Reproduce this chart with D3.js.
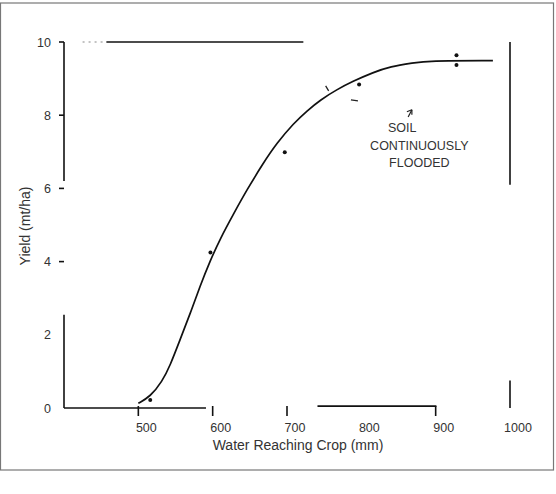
<!DOCTYPE html>
<html>
<head>
<meta charset="utf-8">
<script src="https://cdn.jsdelivr.net/npm/d3@7"></script>
<style>
  body { margin: 0; background: #fff; }
  text { font-family: "Liberation Sans", Arial, sans-serif; fill: #333; }
</style>
</head>
<body>
<script>
// fitted response curve
const curveWater = [500, 516, 532, 543, 556, 570, 583, 597, 610, 628, 646, 668, 686, 709, 727, 745, 767, 789, 816, 839, 870, 889, 977];
const curveYield = [0.13, 0.31, 0.72, 1.17, 1.86, 2.59, 3.33, 4.04, 4.62, 5.3, 5.96, 6.69, 7.23, 7.78, 8.12, 8.42, 8.7, 8.93, 9.17, 9.33, 9.43, 9.49, 9.49];

// observed points
const obsWater = [516, 597, 697, 797, 928, 928];
const obsYield = [0.22, 4.25, 6.99, 8.84, 9.64, 9.37];

const xTicks = [500, 600, 700, 800, 900, 1000];
const yTicks = [0, 2, 4, 6, 8, 10];
const noteLines = ['SOIL', 'CONTINUOUSLY', 'FLOODED'];

function plot()
{
    const W = 556, H = 494;
    const svg = d3.select('body').append('svg')
        .attr('width', W).attr('height', H);

    // outer scan border
    svg.append('rect')
        .attr('x', 0.5).attr('y', 3).attr('width', 553).attr('height', 467)
        .attr('fill', 'none').attr('stroke', '#777').attr('stroke-width', 1.2);

    const x = d3.scaleLinear().domain([400, 1000]).range([64, 510]);
    const y = d3.scaleLinear().domain([0, 10]).range([408, 42]);

    const frame = svg.append('g')
        .attr('stroke', '#111').attr('stroke-width', 1.6).attr('fill', 'none');
    // frame pieces as they survived the scan, in data units
    const segs = [
        [[400, 10], [400, 6.2]],
        [[400, 2.55], [400, 0]],
        [[400, 0], [591, 0]],
        [[741, 0.05], [901, 0.05]],
        [[457, 10], [722, 10]],
        [[1000, 10], [1000, 6.1]],
        [[1000, 0.75], [1000, 0]]
    ];
    segs.forEach(s => {
        frame.append('line')
            .attr('x1', x(s[0][0])).attr('y1', y(s[0][1]))
            .attr('x2', x(s[1][0])).attr('y2', y(s[1][1]));
    });
    // faint dotted start of the top line
    svg.append('line')
        .attr('x1', x(425)).attr('x2', x(457))
        .attr('y1', y(10)).attr('y2', y(10))
        .attr('stroke', '#888').attr('stroke-width', 1.2)
        .attr('stroke-dasharray', '2,4');

    // ticks
    [500, 600, 700, 900].forEach(v => {
        frame.append('line')
            .attr('x1', x(v)).attr('x2', x(v))
            .attr('y1', y(0) - 2).attr('y2', y(0) + 8);
    });
    [10, 8, 6, 4].forEach(v => {
        frame.append('line')
            .attr('x1', x(400) - 5).attr('x2', x(400))
            .attr('y1', y(v)).attr('y2', y(v));
    });

    svg.append('g').selectAll('text')
        .data(xTicks).enter().append('text')
        .attr('x', d => x(d) + 8).attr('y', 432)
        .attr('text-anchor', 'middle')
        .attr('font-size', 12.5)
        .text(d => d);

    svg.append('g').selectAll('text')
        .data(yTicks).enter().append('text')
        .attr('x', 51).attr('y', d => y(d) + 4.5)
        .attr('text-anchor', 'end')
        .attr('font-size', 12.5)
        .text(d => d);

    svg.append('text')
        .attr('x', 298).attr('y', 450)
        .attr('text-anchor', 'middle').attr('font-size', 14)
        .text('Water Reaching Crop (mm)');

    svg.append('text')
        .attr('transform', 'translate(30,226) rotate(-90)')
        .attr('text-anchor', 'middle').attr('font-size', 14)
        .text('Yield (mt/ha)');

    const curve = d3.range(curveWater.length).map(i => [curveWater[i], curveYield[i]]);
    svg.append('path')
        .attr('d', d3.line()
            .x(d => x(d[0])).y(d => y(d[1]))
            .curve(d3.curveBasis)(curve))
        .attr('fill', 'none').attr('stroke', '#111').attr('stroke-width', 1.7);

    svg.append('g').selectAll('circle')
        .data(obsWater).enter().append('circle')
        .attr('cx', d => x(d))
        .attr('cy', (d, i) => y(obsYield[i]))
        .attr('r', 2)
        .attr('fill', '#111');

    // small dash marks near the knee
    svg.append('path')
        .attr('d', `M${x(752)},${y(8.8)} l3,5 M${x(786)},${y(8.42)} l7,1`)
        .attr('stroke', '#222').attr('stroke-width', 1.3).attr('fill', 'none');

    // annotation
    const note = svg.append('g');
    note.selectAll('text')
        .data(noteLines).enter().append('text')
        .attr('x', (d, i) => i === 0 ? x(855) : x(878))
        .attr('y', (d, i) => 132 + i * 17.5)
        .attr('text-anchor', 'middle').attr('font-size', 12.5)
        .text(d => d);
    note.append('line')
        .attr('x1', x(863)).attr('y1', y(7.95))
        .attr('x2', x(868)).attr('y2', y(8.15))
        .attr('stroke', '#222').attr('stroke-width', 1.2);
    note.append('path')
        .attr('d', `M${x(868)},${y(8.15)} l-5,2 M${x(868)},${y(8.15)} l0,5`)
        .attr('stroke', '#222').attr('stroke-width', 1.2).attr('fill', 'none');
}

plot();
</script>
</body>
</html>
